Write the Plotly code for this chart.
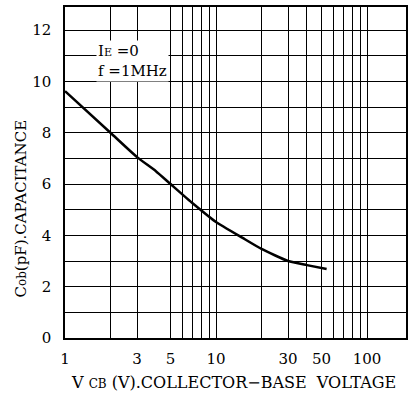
import plotly.graph_objects as go

# Data
vcb = [1, 2, 3, 4, 5, 7, 10, 15, 20, 30, 40, 54]
cob = [9.62, 8.0, 7.05, 6.5, 6.0, 5.25, 4.52, 3.9, 3.47, 3.0, 2.84, 2.69]

x_tickvals = [1, 3, 5, 10, 30, 50, 100]
x_ticktext = ["1", "3", "5", "10", "30", "50", "100"]
x_minor_vals = [2, 6, 7, 8, 9, 20, 40, 60, 70, 80, 90]

y_tickvals = list(range(0, 13))
y_ticktext = [str(v) if v % 2 == 0 else "" for v in y_tickvals]

FONT = "DejaVu Serif"
NB = "\u00a0"

fig = go.Figure()
fig.add_trace(go.Scatter(
    x=vcb, y=cob, mode="lines",
    line=dict(color="black", width=2.5, shape="spline", smoothing=0.5),
    showlegend=False, hoverinfo="skip",
))

grid_col = "black"
fig.update_xaxes(
    type="log", range=[0, 2.258],
    tickmode="array", tickvals=x_tickvals, ticktext=x_ticktext,
    showgrid=True, gridcolor=grid_col, gridwidth=1,
    minor=dict(tickmode="array", tickvals=x_minor_vals, showgrid=True,
               gridcolor=grid_col, gridwidth=1, ticks=""),
    ticks="", showline=True, linecolor="black", linewidth=1.5, mirror=True,
    tickfont=dict(family=FONT, size=15, color="black"),
    ticklabelstandoff=6,
    zeroline=False,
)
fig.update_yaxes(
    range=[0, 12.9],
    tickmode="array", tickvals=y_tickvals, ticktext=y_ticktext,
    showgrid=True, gridcolor=grid_col, gridwidth=1,
    ticks="", showline=True, linecolor="black", linewidth=1.5, mirror=True,
    tickfont=dict(family=FONT, size=15, color="black"),
    ticklabelstandoff=9,
    zeroline=False,
)

# axis titles
fig.add_annotation(
    x=0.5 - 0.005, y=-0.135, xref="paper", yref="paper", xanchor="center", yanchor="middle",
    text="V" + NB + "<span style='font-size:12px'>CB</span>" + NB + "(V).COLLECTOR−BASE" + NB + NB + "VOLTAGE",
    showarrow=False, font=dict(family=FONT, size=16, color="black"),
)
fig.add_annotation(
    x=-0.13, y=0.39, xref="paper", yref="paper", xanchor="center", yanchor="middle",
    text="C<span style='font-size:12px'>ob</span>(pF).CAPACITANCE",
    textangle=-90, showarrow=False, font=dict(family=FONT, size=15, color="black"),
)

fig.add_annotation(
    x=0.09, y=0.9, xref="paper", yref="paper", xanchor="left", yanchor="top",
    text="I<span style='font-size:11px'>E</span> =0<br>f =1MHz",
    showarrow=False, align="left",
    font=dict(family=FONT, size=15, color="black"),
    bgcolor="white", borderpad=1,
)

fig.update_layout(
    width=410, height=396,
    margin=dict(l=65, r=2, t=7, b=58),
    paper_bgcolor="white", plot_bgcolor="white",
)

fig.write_html("out.html")
